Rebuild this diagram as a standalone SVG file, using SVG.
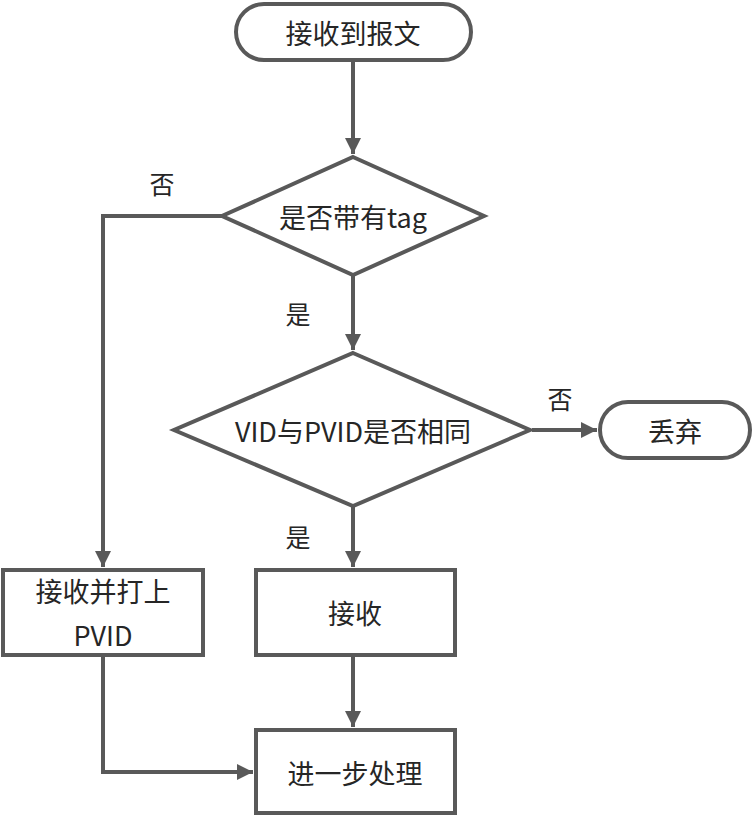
<svg xmlns="http://www.w3.org/2000/svg" width="755" height="818" viewBox="0 0 755 818">
<style>
.s{fill:#fff;stroke:#595959;stroke-width:4}
.c{fill:none;stroke:#595959;stroke-width:4}
.t{font-family:"Noto Sans CJK SC","Microsoft YaHei",sans-serif;font-size:27px;fill:#262626;text-anchor:middle;dominant-baseline:central}
.l{font-family:"Noto Sans CJK SC",sans-serif;font-size:25px;fill:#262626;text-anchor:middle;dominant-baseline:central}
</style>
<defs>
<marker id="a" markerUnits="userSpaceOnUse" markerWidth="20" markerHeight="20" viewBox="0 0 20 20" refX="18" refY="10" orient="auto">
<path d="M2,2 L18,10 L2,18 Z" fill="#595959"/>
</marker>
</defs>
<rect width="755" height="818" fill="#fff"/>
<g id="connectors">
<path class="c" d="M353,60 V154" marker-end="url(#a)"/>
<path class="c" d="M353,275 V350" marker-end="url(#a)"/>
<path class="c" d="M222,216 H103 V567" marker-end="url(#a)"/>
<path class="c" d="M532,430 H597" marker-end="url(#a)"/>
<path class="c" d="M353,506 V567" marker-end="url(#a)"/>
<path class="c" d="M353,655 V727" marker-end="url(#a)"/>
<path class="c" d="M103,655 V772 H253" marker-end="url(#a)"/>
<text class="l" x="162" y="183">否</text>
<text class="l" x="298" y="313">是</text>
<text class="l" x="560" y="398">否</text>
<text class="l" x="298" y="536">是</text>
</g>
<g id="start">
<rect class="s" x="236" y="4" width="235" height="56" rx="28"/>
<text class="t" x="353" y="32">接收到报文</text>
</g>
<g id="tagcheck">
<polygon class="s" points="353,157 484,216 353,275 222,216"/>
<text class="t" x="353" y="216">是否带有tag</text>
</g>
<g id="vidcheck">
<polygon class="s" points="353,353 530,430 353,506 174,430"/>
<text class="t" x="353" y="430">VID与PVID是否相同</text>
</g>
<g id="discard">
<rect class="s" x="600" y="402" width="150" height="56" rx="28"/>
<text class="t" x="675" y="430">丢弃</text>
</g>
<g id="addpvid">
<rect class="s" x="3" y="570" width="200" height="85"/>
<text class="t" x="103" y="590">接收并打上</text>
<text class="t" x="103" y="634">PVID</text>
</g>
<g id="accept">
<rect class="s" x="256" y="570" width="199" height="85"/>
<text class="t" x="355" y="612">接收</text>
</g>
<g id="process">
<rect class="s" x="256" y="730" width="199" height="83"/>
<text class="t" x="355" y="772">进一步处理</text>
</g>
</svg>
